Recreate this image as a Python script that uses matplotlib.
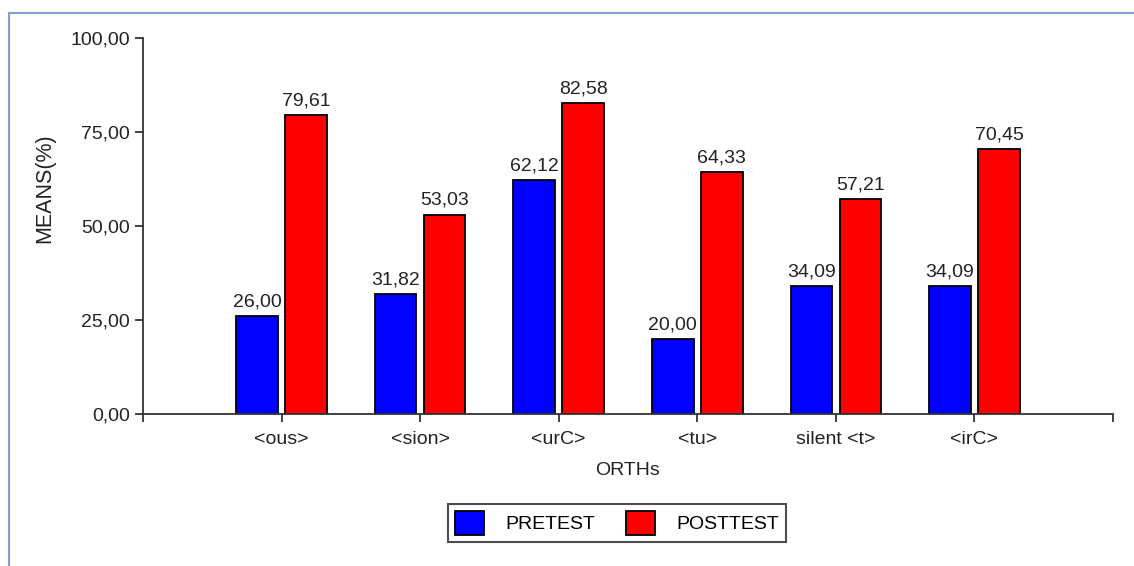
import matplotlib
matplotlib.use("Agg")
import matplotlib.pyplot as plt
from matplotlib.patches import Rectangle

plt.rcParams['font.family'] = ['Liberation Sans', 'DejaVu Sans']

orths = ['<ous>', '<sion>', '<urC>', '<tu>', 'silent <t>', '<irC>']
pretest = [26.00, 31.82, 62.12, 20.00, 34.09, 34.09]
posttest = [79.61, 53.03, 82.58, 64.33, 57.21, 70.45]
yticks = [0, 25, 50, 75, 100]

fs = 14
fig = plt.figure(figsize=(11.34, 5.66), dpi=100)
ax = fig.add_axes([143/1134, 1 - 414/566, 970/1134, 376/566])

# outer frame (light blue, open at right/bottom)
fig.patches.append(Rectangle((9/1134, -0.1), 1.2, 1.1 - 13/566,
                             transform=fig.transFigure, fill=False,
                             edgecolor='#7f9fd6', linewidth=1.5))

x = list(range(1, len(orths) + 1))
w = 0.3
off = 0.177
b1 = ax.bar([i - off for i in x], pretest, w, color='#0000ff', edgecolor='black', linewidth=1.3, label='PRETEST')
b2 = ax.bar([i + off for i in x], posttest, w, color='#ff0000', edgecolor='black', linewidth=1.3, label='POSTTEST')

for bars, vals in ((b1, pretest), (b2, posttest)):
    for r, v in zip(bars, vals):
        ax.text(r.get_x() + r.get_width() / 2, v + 1.5, f'{v:.2f}'.replace('.', ','),
                ha='center', va='bottom', fontsize=fs, color='#222222')

ax.set_xlim(0, 7)
ax.set_ylim(0, 100)
ax.set_xticks(range(0, 8))
ax.set_xticklabels([''] + orths + [''], fontsize=fs)
ax.set_yticks(yticks)
ax.set_yticklabels([f'{v:.2f}'.replace('.', ',') for v in yticks], fontsize=fs)
ax.tick_params(axis='both', direction='out', length=6, width=1.3, color='#333333', labelcolor='#222222')
ax.tick_params(axis='x', pad=6)

for s in ('top', 'right'):
    ax.spines[s].set_visible(False)
for s in ('left', 'bottom'):
    ax.spines[s].set_color('#333333')
    ax.spines[s].set_linewidth(1.3)

ax.set_xlabel('ORTHs', fontsize=fs, color='#222222', labelpad=10)
ax.set_ylabel('MEANS(%)', fontsize=15.5, color='#222222')
ax.yaxis.set_label_coords(-0.09, 0.60)

leg = fig.legend(handles=[b1, b2], loc='center', bbox_to_anchor=(617/1134, 1 - 523/566),
                 ncol=2, fontsize=fs, frameon=True, fancybox=False,
                 handlelength=1.5, handleheight=1.5, handletextpad=1.1,
                 columnspacing=1.6, borderpad=0.35)
leg.get_frame().set_edgecolor('#222222')
leg.get_frame().set_linewidth(1.5)

fig.savefig('out.png', dpi=100)
